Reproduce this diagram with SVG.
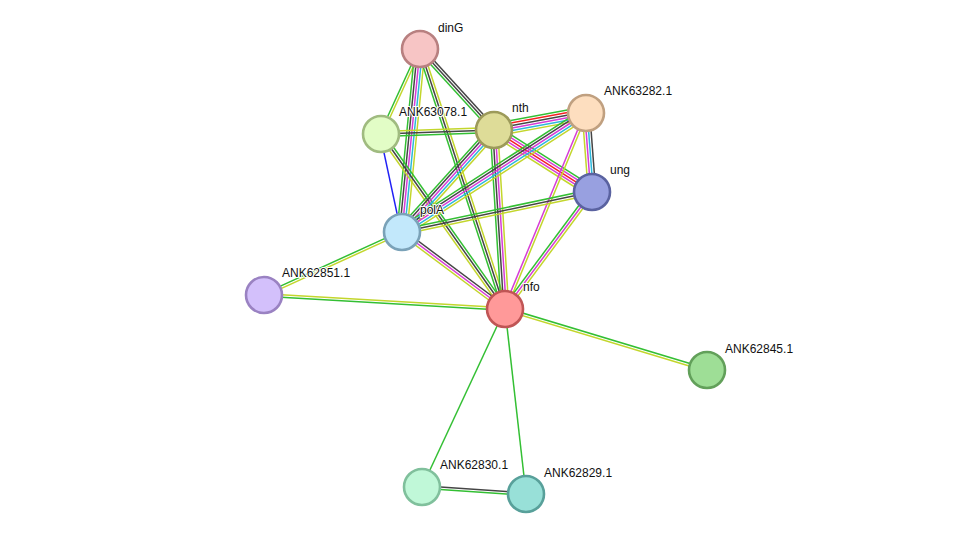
<svg xmlns="http://www.w3.org/2000/svg" width="975" height="540" viewBox="0 0 975 540">
<style>
line{stroke-width:1.5;fill:none}
.g{stroke:#33bf33}.y{stroke:#c3d62c}.m{stroke:#d63cd6}.c{stroke:#2cb8dc}.k{stroke:#454545}.r{stroke:#f52020}.b{stroke:#2020f5}
.node circle{stroke-width:2.6}
text{font-family:"Liberation Sans",Arial,sans-serif;font-size:12px;fill:#111;paint-order:stroke;stroke:#fff;stroke-width:2px;stroke-linejoin:round}
</style>
<rect width="975" height="540" fill="#fff"/>
<g id="connectors">
<!-- dinG - ANK63078.1 -->
<g transform="translate(420,49) rotate(114.65)"><line class="y" x1="0" y1="-1.25" x2="93.5" y2="-1.25"/><line class="g" x1="0" y1="1.25" x2="93.5" y2="1.25"/></g>
<!-- dinG - polA -->
<g transform="translate(420,49) rotate(95.62)"><line class="y" x1="0" y1="-5" x2="183.9" y2="-5"/><line class="c" x1="0" y1="-2.5" x2="183.9" y2="-2.5"/><line class="m" x1="0" y1="0" x2="183.9" y2="0"/><line class="k" x1="0" y1="2.5" x2="183.9" y2="2.5"/><line class="g" x1="0" y1="5" x2="183.9" y2="5"/></g>
<!-- dinG - nfo -->
<g transform="translate(420,49) rotate(71.90)"><line class="y" x1="0" y1="-2.5" x2="273.5" y2="-2.5"/><line class="k" x1="0" y1="0" x2="273.5" y2="0"/><line class="g" x1="0" y1="2.5" x2="273.5" y2="2.5"/></g>
<!-- dinG - nth -->
<g transform="translate(420,49) rotate(47.59)"><line class="k" x1="0" y1="-2.5" x2="109.7" y2="-2.5"/><line class="k" x1="0" y1="0" x2="109.7" y2="0"/><line class="g" x1="0" y1="2.5" x2="109.7" y2="2.5"/></g>
<!-- ANK63078.1 - nth -->
<g transform="translate(381,134) rotate(-2.03)"><line class="y" x1="0" y1="-2.5" x2="113.1" y2="-2.5"/><line class="k" x1="0" y1="0" x2="113.1" y2="0"/><line class="g" x1="0" y1="2.5" x2="113.1" y2="2.5"/></g>
<!-- ANK63078.1 - polA -->
<g transform="translate(381,134) rotate(77.9)"><line class="b" x1="0" y1="1" x2="100.2" y2="1"/></g>
<!-- ANK63078.1 - nfo -->
<g transform="translate(381,134) rotate(54.68)"><line class="g" x1="0" y1="-2.5" x2="214.5" y2="-2.5"/><line class="k" x1="0" y1="0" x2="214.5" y2="0"/><line class="y" x1="0" y1="2.5" x2="214.5" y2="2.5"/></g>
<!-- nth - ANK63282.1 -->
<g transform="translate(494,130) rotate(-10.47)"><line class="g" x1="0" y1="-6.25" x2="93.6" y2="-6.25"/><line class="r" x1="0" y1="-3.75" x2="93.6" y2="-3.75"/><line class="k" x1="0" y1="-1.25" x2="93.6" y2="-1.25"/><line class="m" x1="0" y1="1.25" x2="93.6" y2="1.25"/><line class="c" x1="0" y1="3.75" x2="93.6" y2="3.75"/><line class="y" x1="0" y1="6.25" x2="93.6" y2="6.25"/></g>
<!-- nth - ung -->
<g transform="translate(494,130) rotate(32.32)"><line class="g" x1="0" y1="-5" x2="116" y2="-5"/><line class="m" x1="0" y1="-2.5" x2="116" y2="-2.5"/><line class="r" x1="0" y1="0" x2="116" y2="0"/><line class="m" x1="0" y1="2.5" x2="116" y2="2.5"/><line class="y" x1="0" y1="5" x2="116" y2="5"/></g>
<!-- nth - polA -->
<g transform="translate(494,130) rotate(132.05)"><line class="y" x1="0" y1="-5" x2="137.4" y2="-5"/><line class="c" x1="0" y1="-2.5" x2="137.4" y2="-2.5"/><line class="m" x1="0" y1="0" x2="137.4" y2="0"/><line class="k" x1="0" y1="2.5" x2="137.4" y2="2.5"/><line class="g" x1="0" y1="5" x2="137.4" y2="5"/></g>
<!-- nth - nfo -->
<g transform="translate(494,130) rotate(86.48)"><line class="y" x1="0" y1="-3.75" x2="179.3" y2="-3.75"/><line class="m" x1="0" y1="-1.25" x2="179.3" y2="-1.25"/><line class="k" x1="0" y1="1.25" x2="179.3" y2="1.25"/><line class="g" x1="0" y1="3.75" x2="179.3" y2="3.75"/></g>
<!-- ANK63282.1 - polA -->
<g transform="translate(586,113) rotate(147.11)"><line class="y" x1="0" y1="-5" x2="219.1" y2="-5"/><line class="c" x1="0" y1="-2.5" x2="219.1" y2="-2.5"/><line class="m" x1="0" y1="0" x2="219.1" y2="0"/><line class="k" x1="0" y1="2.5" x2="219.1" y2="2.5"/><line class="g" x1="0" y1="5" x2="219.1" y2="5"/></g>
<!-- ANK63282.1 - ung -->
<g transform="translate(586,113) rotate(85.66)"><line class="k" x1="0" y1="-3.75" x2="79.2" y2="-3.75"/><line class="c" x1="0" y1="-1.25" x2="79.2" y2="-1.25"/><line class="m" x1="0" y1="1.25" x2="79.2" y2="1.25"/><line class="y" x1="0" y1="3.75" x2="79.2" y2="3.75"/></g>
<!-- ANK63282.1 - nfo -->
<g transform="translate(586,113) rotate(112.45)"><line class="y" x1="0" y1="-1.25" x2="212.1" y2="-1.25"/><line class="m" x1="0" y1="1.25" x2="212.1" y2="1.25"/></g>
<!-- ung - polA -->
<g transform="translate(592,192) rotate(168.11)"><line class="y" x1="0" y1="-2.5" x2="194.2" y2="-2.5"/><line class="k" x1="0" y1="0" x2="194.2" y2="0"/><line class="g" x1="0" y1="2.5" x2="194.2" y2="2.5"/></g>
<!-- ung - nfo -->
<g transform="translate(592,192) rotate(126.63)"><line class="y" x1="0" y1="-2.5" x2="145.8" y2="-2.5"/><line class="m" x1="0" y1="0" x2="145.8" y2="0"/><line class="g" x1="0" y1="2.5" x2="145.8" y2="2.5"/></g>
<!-- polA - nfo -->
<g transform="translate(402,232) rotate(36.78)"><line class="k" x1="0" y1="-2.5" x2="128.6" y2="-2.5"/><line class="m" x1="0" y1="0" x2="128.6" y2="0"/><line class="y" x1="0" y1="2.5" x2="128.6" y2="2.5"/></g>
<!-- polA - ANK62851.1 -->
<g transform="translate(402,232) rotate(155.46)"><line class="y" x1="0" y1="-1.25" x2="151.7" y2="-1.25"/><line class="g" x1="0" y1="1.25" x2="151.7" y2="1.25"/></g>
<!-- ANK62851.1 - nfo -->
<g transform="translate(264,295) rotate(3.32)"><line class="y" x1="0" y1="-1.25" x2="241.4" y2="-1.25"/><line class="g" x1="0" y1="1.25" x2="241.4" y2="1.25"/></g>
<!-- nfo - ANK62845.1 -->
<g transform="translate(505,309) rotate(16.80)"><line class="g" x1="0" y1="-1.25" x2="211" y2="-1.25"/><line class="y" x1="0" y1="1.25" x2="211" y2="1.25"/></g>
<!-- nfo - ANK62830.1 -->
<g transform="translate(505,309) rotate(115.0)"><line class="g" x1="0" y1="0" x2="196.4" y2="0"/></g>
<!-- nfo - ANK62829.1 -->
<g transform="translate(505,309) rotate(83.52)"><line class="g" x1="0" y1="0" x2="186.2" y2="0"/></g>
<!-- ANK62830.1 - ANK62829.1 -->
<g transform="translate(422,487) rotate(3.85)"><line class="k" x1="0" y1="-1.25" x2="104.2" y2="-1.25"/><line class="g" x1="0" y1="1.25" x2="104.2" y2="1.25"/></g>
</g>
<g id="dinG" class="node"><circle cx="420" cy="49" r="18" fill="#f7c5c5" stroke="#b88080"/><text x="438" y="32">dinG</text></g>
<g id="ANK63078.1" class="node"><circle cx="381" cy="134" r="18" fill="#e2fdc6" stroke="#a0bb80"/><text x="399" y="116">ANK63078.1</text></g>
<g id="nth" class="node"><circle cx="494" cy="130" r="18" fill="#dedc98" stroke="#9c9a5a"/><text x="512" y="112">nth</text></g>
<g id="ANK63282.1" class="node"><circle cx="586" cy="113" r="18" fill="#fddebf" stroke="#c0a080"/><text x="604" y="95">ANK63282.1</text></g>
<g id="ung" class="node"><circle cx="592" cy="192" r="18" fill="#98a0e0" stroke="#5a62a0"/><text x="610" y="174">ung</text></g>
<g id="polA" class="node"><circle cx="402" cy="232" r="18" fill="#c2e8fb" stroke="#7aa2b8"/><text x="420" y="214">polA</text></g>
<g id="ANK62851.1" class="node"><circle cx="264" cy="295" r="18" fill="#d3c0fb" stroke="#9a82c2"/><text x="282" y="277">ANK62851.1</text></g>
<g id="nfo" class="node"><circle cx="505" cy="309" r="18" fill="#ff9999" stroke="#c05555"/><text x="523" y="291">nfo</text></g>
<g id="ANK62845.1" class="node"><circle cx="707" cy="370" r="18" fill="#9ede96" stroke="#62a05a"/><text x="725" y="353">ANK62845.1</text></g>
<g id="ANK62830.1" class="node"><circle cx="422" cy="487" r="18" fill="#c0f8d8" stroke="#80c09c"/><text x="440" y="469">ANK62830.1</text></g>
<g id="ANK62829.1" class="node"><circle cx="526" cy="494" r="18" fill="#98e0d8" stroke="#58a09a"/><text x="544" y="477">ANK62829.1</text></g>
</svg>
